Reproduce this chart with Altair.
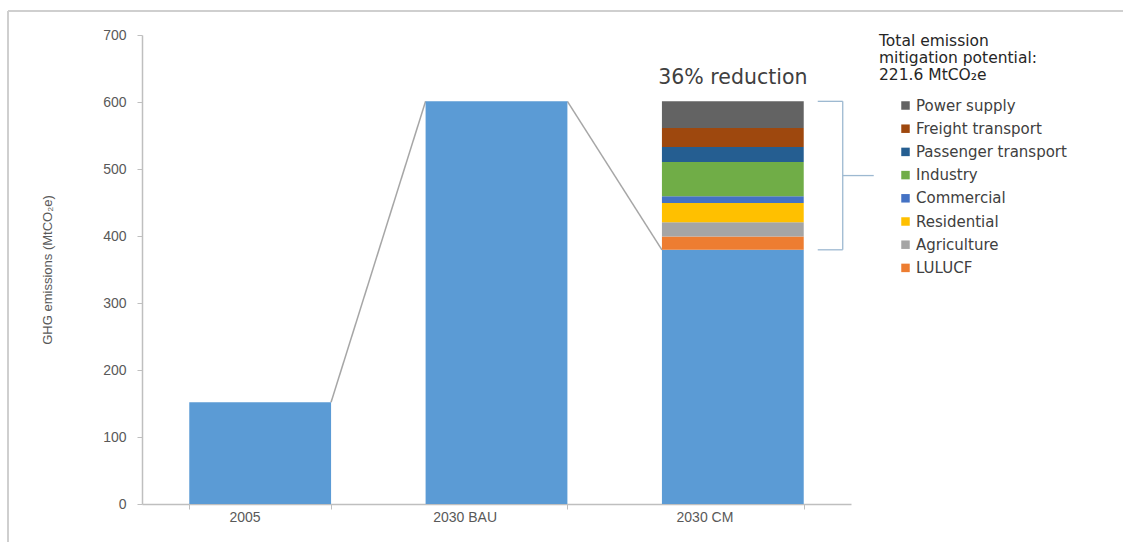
import altair as alt
import pandas as pd

# Scenario totals (MtCO2e)
categories = ["2005", "2030 BAU", "2030 CM"]
bar_values = [152.0, 601.0, 379.4]

# Mitigation potential by sector in the 2030 CM scenario (top of stack first)
sectors = [
    "Power supply",
    "Freight transport",
    "Passenger transport",
    "Industry",
    "Commercial",
    "Residential",
    "Agriculture",
    "LULUCF",
]
sector_values = [39.9, 28.3, 22.3, 51.3, 9.8, 29.0, 21.0, 20.0]
sector_colors = [
    "#636363",
    "#9E480E",
    "#255E91",
    "#70AD47",
    "#4472C4",
    "#FFC000",
    "#A5A5A5",
    "#ED7D31",
]

y_ticks = [0, 100, 200, 300, 400, 500, 600, 700]
bar_color = "#5B9BD5"
font = "Liberation Sans"
wide_font = "DejaVu Sans"
total_mitigation = sum(sector_values)

bars_df = pd.DataFrame({"cat": categories, "value": bar_values})

# Stack the sector wedges on top of the CM remainder, LULUCF at the bottom
rows = []
level = bar_values[2]
for name, val in zip(reversed(sectors), reversed(sector_values)):
    rows.append({"cat": categories[2], "sector": name, "y0": level, "y1": level + val})
    level += val
seg_df = pd.DataFrame(rows)
stack_top = level

# Connector lines between bar tops
conn_df = pd.DataFrame(
    {
        "cat": [categories[0], categories[1]],
        "cat_to": [categories[1], categories[2]],
        "y": [bar_values[0], bar_values[1]],
        "y2": [bar_values[1], bar_values[2]],
    }
)

x_scale = alt.Scale(domain=categories, paddingInner=0.4, paddingOuter=0.2)
y_scale = alt.Scale(domain=[0, 700], nice=False)

x_axis = alt.Axis(
    title=None,
    labelAngle=0,
    labelFont=font,
    labelFontSize=14,
    labelColor="#595959",
    labelPadding=8,
    tickBand="extent",
    tickSize=5,
    tickColor="#BFBFBF",
    domainColor="#BFBFBF",
    domainWidth=1.5,
)
y_axis = alt.Axis(
    title="GHG emissions (MtCO₂e)",
    titleFont=font,
    titleFontSize=13,
    titleFontWeight="normal",
    titleColor="#595959",
    titlePadding=48,
    values=y_ticks,
    labelFont=font,
    labelFontSize=14,
    labelColor="#595959",
    labelPadding=11,
    tickSize=5,
    tickColor="#BFBFBF",
    domainColor="#BFBFBF",
    domainWidth=1.5,
    grid=False,
)

bars = (
    alt.Chart(bars_df)
    .mark_bar(color=bar_color)
    .encode(
        x=alt.X("cat:N", scale=x_scale, axis=x_axis, sort=categories),
        y=alt.Y("value:Q", scale=y_scale, axis=y_axis),
    )
)

segments = (
    alt.Chart(seg_df)
    .mark_bar()
    .encode(
        x=alt.X("cat:N", sort=categories),
        y=alt.Y("y0:Q"),
        y2="y1:Q",
        color=alt.Color(
            "sector:N",
            scale=alt.Scale(domain=sectors, range=sector_colors),
            legend=alt.Legend(
                orient="none",
                legendX=756,
                legendY=63,
                title=None,
                symbolType="square",
                symbolSize=72,
                symbolStrokeWidth=0,
                labelFont=wide_font,
                labelFontSize=15,
                labelColor="#404040",
                labelOffset=3,
                rowPadding=7.2,
                padding=0,
            ),
        ),
    )
)

connectors = (
    alt.Chart(conn_df)
    .mark_rule(color="#A6A6A6", strokeWidth=1.5)
    .encode(
        x=alt.X("cat:N", bandPosition=1, sort=categories),
        x2=alt.X2("cat_to:N", bandPosition=0),
        y="y:Q",
        y2="y2:Q",
    )
)

# Curly brace alongside the mitigation stack
brace_color = "#9DB9D1"
brace_df = pd.DataFrame(
    {"cat": [categories[2]], "lo": [bar_values[2]], "hi": [stack_top],
     "mid": [(bar_values[2] + stack_top) / 2]}
)
brace_base = alt.Chart(brace_df)
brace_arms = [
    brace_base.mark_rule(color=brace_color, strokeWidth=1.3, xOffset=14, x2Offset=39).encode(
        x=alt.X("cat:N", bandPosition=1, sort=categories),
        x2=alt.X2("cat:N", bandPosition=1),
        y=alt.Y(f"{fld}:Q"),
    )
    for fld in ["lo", "hi"]
]
brace_spine = brace_base.mark_rule(color=brace_color, strokeWidth=1.3, xOffset=39).encode(
    x=alt.X("cat:N", bandPosition=1, sort=categories),
    y="lo:Q",
    y2="hi:Q",
)
brace_tip = brace_base.mark_rule(color=brace_color, strokeWidth=1.3, xOffset=39, x2Offset=70).encode(
    x=alt.X("cat:N", bandPosition=1, sort=categories),
    x2=alt.X2("cat:N", bandPosition=1),
    y="mid:Q",
)

reduction_label = (
    alt.Chart(brace_df)
    .mark_text(
        text="36% reduction",
        font=wide_font,
        fontSize=20.5,
        color="#404040",
        baseline="middle",
        dy=-23,
    )
    .encode(x=alt.X("cat:N", sort=categories), y="hi:Q")
)

total_label = (
    alt.Chart(brace_df)
    .mark_text(
        text=f"Total emission\nmitigation potential:\n{total_mitigation:.1f} MtCO₂e",
        lineBreak="\n",
        lineHeight=17,
        font=wide_font,
        fontSize=15.5,
        color="#262626",
        align="left",
        baseline="top",
    )
    .encode(x=alt.value(737), y=alt.value(-1))
)

# Thin frame along the top and left edges
frame_top = (
    alt.Chart(brace_df)
    .mark_rule(color="#CFCFCF", strokeWidth=2)
    .encode(x=alt.value(-134), x2=alt.value(990), y=alt.value(-24))
)
frame_left = (
    alt.Chart(brace_df)
    .mark_rule(color="#CFCFCF", strokeWidth=2)
    .encode(x=alt.value(-134), y=alt.value(-24), y2=alt.value(510))
)

chart = (
    alt.layer(
        frame_top,
        frame_left,
        connectors,
        bars,
        segments,
        *brace_arms,
        brace_spine,
        brace_tip,
        reduction_label,
        total_label,
    )
    .properties(
        width=709,
        height=469,
        autosize=alt.AutoSizeParams(type="none"),
        padding={"left": 142, "top": 35, "right": 272, "bottom": 38},
        background="white",
    )
    .configure_view(stroke=None)
)

chart.save("out.html", embed_options={"renderer": "svg", "actions": False})
